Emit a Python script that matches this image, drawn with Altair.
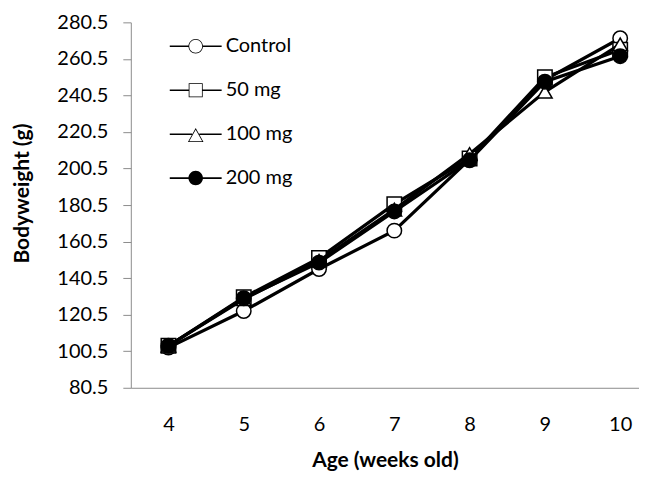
import altair as alt
import pandas as pd

weeks = [4, 5, 6, 7, 8, 9, 10]
series_names = ["Control", "50 mg", "100 mg", "200 mg"]
control = [102.5, 122.5, 145.5, 166.5, 205.5, 249.0, 271.8]
mg50 = [103.5, 130.0, 151.5, 181.0, 206.0, 250.4, 265.5]
mg100 = [103.5, 129.0, 150.0, 178.0, 208.5, 242.5, 268.5]
mg200 = [103.5, 129.5, 149.0, 177.0, 205.0, 248.0, 262.0]
y_ticks = [80.5, 100.5, 120.5, 140.5, 160.5, 180.5, 200.5, 220.5, 240.5, 260.5, 280.5]

values = {"Control": control, "50 mg": mg50, "100 mg": mg100, "200 mg": mg200}
rows = []
for s in series_names:
    for w, v in zip(weeks, values[s]):
        rows.append({"series": s, "week": w, "weight": v})
df = pd.DataFrame(rows)

plot_shapes = {"Control": "circle", "50 mg": "square", "100 mg": "triangle-up", "200 mg": "circle"}
plot_fills = {"Control": "white", "50 mg": "white", "100 mg": "white", "200 mg": "black"}

FONT = "Lato"
LABEL_SIZE = 20
TITLE_SIZE = 21

x_enc = alt.X("week:Q", scale=alt.Scale(domain=[3.5, 10.25], nice=False, zero=False),
              axis=alt.Axis(values=weeks, title="Age (weeks old)", grid=False, tickSize=0,
                            labelPadding=27, domainColor="#8c8c8c", labelFontSize=LABEL_SIZE,
                            titleFontSize=TITLE_SIZE, titleFontWeight="bold", labelFont=FONT,
                            titleFont=FONT, labelColor="black", titleColor="black",
                            titleY=73, titleBaseline="middle", labelFlush=False))
y_enc = alt.Y("weight:Q", scale=alt.Scale(domain=[80.5, 280.5], nice=False, zero=False),
              axis=alt.Axis(values=y_ticks, format=".1f", title="Bodyweight (g)", grid=False,
                            tickSize=8, tickColor="#8c8c8c", domainColor="#8c8c8c",
                            labelPadding=15, labelFontSize=LABEL_SIZE, titleFontSize=TITLE_SIZE,
                            titleFontWeight="bold", labelFont=FONT, titleFont=FONT,
                            labelColor="black", titleColor="black", titleX=-108, titleY=171,
                            titleBaseline="middle", titleAlign="center", labelFlush=False))

layers = []
for s in series_names:
    sub = alt.Chart(df).transform_filter(alt.datum.series == s)
    layers.append(sub.mark_line(color="black", strokeWidth=3.2).encode(x=x_enc, y=y_enc))
    layers.append(sub.mark_point(shape=plot_shapes[s], size=210, filled=True,
                                 fill=plot_fills[s], stroke="black", strokeWidth=1.5,
                                 opacity=1).encode(x=x_enc, y=y_enc))

# legend glyphs: a line with the marker, drawn as filled outlines (holes via reversed subpaths)
def seg(x0, x1):
    return f"M{x0},-0.03H{x1}V0.03H{x0}Z "

ring = ("M0.28,0A0.28,0.28 0 1,1 -0.28,0A0.28,0.28 0 1,1 0.28,0Z "
        "M0.25,0A0.25,0.25 0 1,0 -0.25,0A0.25,0.25 0 1,0 0.25,0Z")
disc = "M0.28,0A0.28,0.28 0 1,1 -0.28,0A0.28,0.28 0 1,1 0.28,0Z"
box = "M-0.27,-0.27H0.27V0.27H-0.27Z M-0.24,-0.24V0.24H0.24V-0.24Z"
tri = "M0,-0.24L0.3,0.3L-0.3,0.3Z M0,-0.17L-0.25,0.27L0.25,0.27Z"
legend_paths = [seg(-1, -0.27) + seg(0.27, 1) + ring,
                seg(-1, -0.26) + seg(0.26, 1) + box,
                seg(-1, -0.14) + seg(0.14, 1) + tri,
                seg(-1, -0.27) + seg(0.27, 1) + disc]

legend_layer = alt.Chart(df).transform_filter("false").mark_point(
    filled=True, color="black", opacity=1
).encode(
    shape=alt.Shape("series:N", scale=alt.Scale(domain=series_names, range=legend_paths),
                    legend=alt.Legend(title=None, orient="none", legendX=39, legendY=-2)),
)
layers.append(legend_layer)

chart = alt.layer(*layers).properties(
    width=509, height=366,
    autosize=alt.AutoSizeParams(type="none"),
    padding={"left": 123, "top": 14, "right": 0, "bottom": 85},
).configure_view(stroke=None).configure_legend(
    symbolSize=2700, symbolOpacity=1, symbolStrokeWidth=0, symbolFillColor="black",
    labelFontSize=LABEL_SIZE, labelFont=FONT, labelColor="black", rowPadding=8,
    labelOffset=4, padding=0,
)

chart.save("out.html", embed_options={"renderer": "svg", "actions": False})
